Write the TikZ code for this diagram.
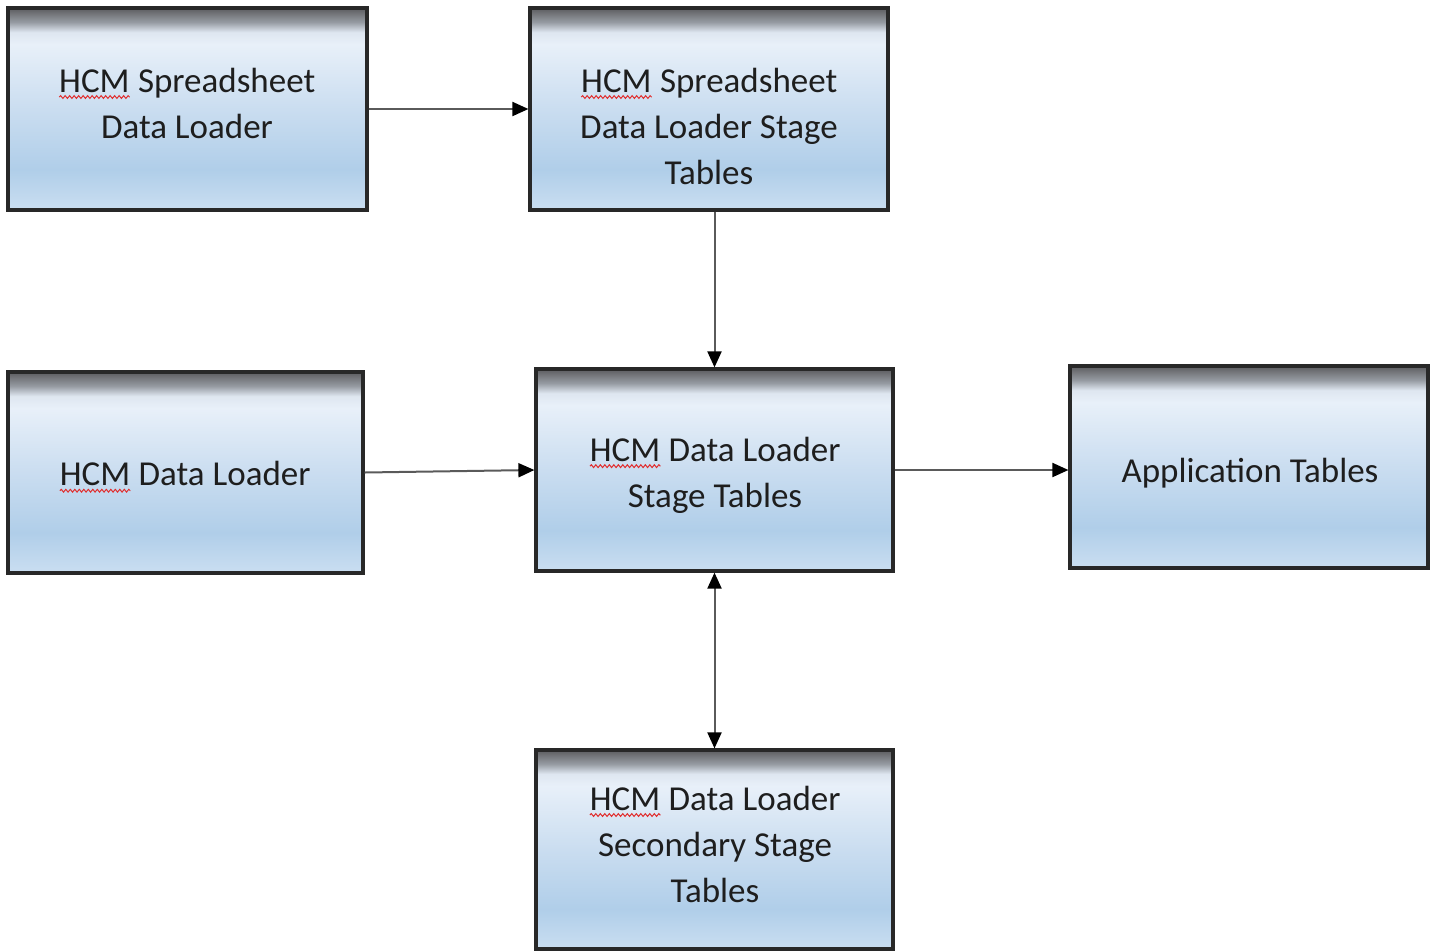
\documentclass[tikz,border=0pt]{standalone}
\usepackage{fontspec}
\setmainfont{Carlito}
\usetikzlibrary{arrows.meta,decorations.pathmorphing}
\definecolor{sb0}{RGB}{202,222,241}
\definecolor{sb1}{RGB}{176,206,233}
\definecolor{sb2}{RGB}{202,221,240}
\definecolor{sb3}{RGB}{232,240,249}
\definecolor{sb4}{RGB}{222,230,240}
\definecolor{sb5}{RGB}{150,155,162}
\definecolor{sb6}{RGB}{92,92,95}
\definecolor{edgecol}{RGB}{40,40,40}
\definecolor{linecol}{RGB}{90,90,90}
\definecolor{txtcol}{RGB}{30,30,30}
\definecolor{wavecol}{RGB}{225,45,45}
\pgfdeclareverticalshading{boxshade}{100bp}{color(0bp)=(sb0); color(25bp)=(sb0); color(35bp)=(sb1); color(50bp)=(sb2); color(66bp)=(sb3); color(69bp)=(sb4); color(71.5bp)=(sb5); color(75bp)=(sb6); color(100bp)=(sb6)}
\newcommand\hcmword{\tikz[baseline=(hw.base)]{\node[inner sep=0pt,outer sep=0pt] (hw) {HCM};\draw[wavecol,line width=1pt,decorate,decoration={snake,amplitude=1.4pt,segment length=4.5pt}] ([yshift=-5pt]hw.base west) -- ([yshift=-5pt]hw.base east);}}
\tikzset{
  box/.style={rectangle, draw=edgecol, line width=3.2pt, shade, shading=boxshade, inner sep=0pt},
  lbl/.style={align=center, text=txtcol, font=\fontsize{35}{46}\selectfont, inner sep=0pt},
  tip/.style={},
  conn/.style={draw=linecol, line width=2pt, -{Triangle[length=16pt,width=14pt,fill=black,color=black]}},
  conn2/.style={draw=linecol, line width=2pt, {Triangle[length=16pt,width=14pt,fill=black,color=black]}-{Triangle[length=16pt,width=14pt,fill=black,color=black]}}
}
\begin{document}
\begin{tikzpicture}[x=1pt,y=-1pt]
\useasboundingbox (0,0) rectangle (1434,951);
% boxes
\node[box, minimum width=359pt, minimum height=202pt] (a) at (187.5,109) {};
\node[box, minimum width=358pt, minimum height=202pt] (b) at (709,109) {};
\node[box, minimum width=355pt, minimum height=201pt] (c) at (185.5,472.5) {};
\node[box, minimum width=357pt, minimum height=202pt] (d) at (714.5,470) {};
\node[box, minimum width=358pt, minimum height=202pt] (e) at (1249,467) {};
\node[box, minimum width=357pt, minimum height=199pt] (f) at (714.5,849.5) {};
% labels
\node[lbl] (ta) at (187,103) {\hcmword{} Spreadsheet\\Data Loader};
\node[lbl] (tb) at (709,126) {\hcmword{} Spreadsheet\\Data Loader Stage\\Tables};
\node[lbl] (tc) at (185,477) {\hcmword{} Data Loader};
\node[lbl] (td) at (715,475) {\hcmword{} Data Loader\\Stage Tables};
\node[lbl] (te) at (1250,473) {Application Tables};
\node[lbl] (tf) at (715,844) {\hcmword{} Data Loader\\Secondary Stage\\Tables};
% connectors
\draw[conn] (a.east) -- (b.west);
\draw[conn] (d.north |- b.south) -- (d.north);
\draw[conn] (c.east) -- (d.west);
\draw[conn] (d.east) -- (d.east -| e.west);
\draw[conn2] (d.south) -- (f.north);
\end{tikzpicture}
\end{document}
